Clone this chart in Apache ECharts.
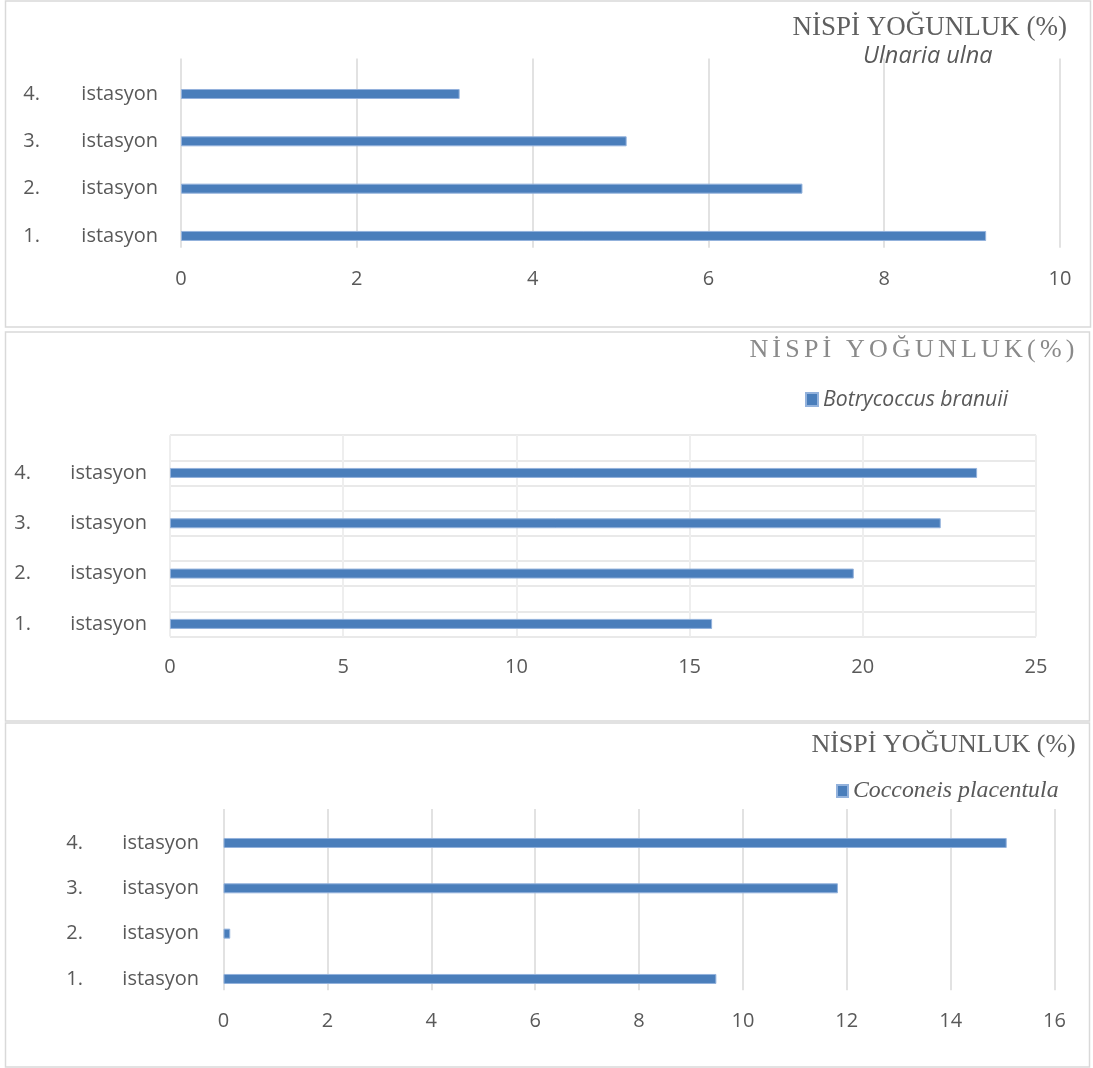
<!DOCTYPE html>
<html>
<head>
<meta charset="utf-8">
<title>Nispi yoğunluk</title>
<script src="https://cdn.jsdelivr.net/npm/echarts@6/dist/echarts.min.js"></script>
<style>
  html, body { margin: 0; padding: 0; background: #ffffff; }
  #chart { width: 1093px; height: 1068px; }
</style>
</head>
<body>
<div id="chart"></div>
<script>
// Station labels (bottom to top) and the word printed after each number
const stations = ['1.', '2.', '3.', '4.'];
const stationWord = 'istasyon';

// Relative abundance (%) per station
const ulnariaUlna = [9.16, 7.07, 5.07, 3.17];
const botryococcusBranuii = [15.65, 19.74, 22.25, 23.3];
const cocconeisPlacentula = [9.49, 0.13, 11.83, 15.08];

// Species names shown in the legends
const speciesNames = ['Ulnaria ulna', 'Botrycoccus branuii', 'Cocconeis placentula'];

// Value-axis ranges and steps for the three panels
const axisMax = [10, 25, 16];
const axisStep = [2, 5, 2];

const heading = 'NİSPİ YOĞUNLUK (%)';
const headingTight = 'NİSPİ YOĞUNLUK(%)';

const GREY = '#595959';
const SANS = '"Open Sans", "Noto Sans", sans-serif';
const SERIF = '"Liberation Serif", "DejaVu Serif", serif';
const BAR = '#4a7ebb';
const BAR_EDGE = '#93b2dc';
const BAR_W = 10;

// Panel geometry
const panels = [
  { left: 181, top: 58.5, width: 879, height: 189.3, labelMargin: 23, numW: 58 },
  { left: 170, top: 435.2, width: 866, height: 201.3, labelMargin: 23, numW: 56 },
  { left: 223.5, top: 809, width: 831, height: 181.3, labelMargin: 24.5, numW: 56 }
];

function bandOffset(p) { return p.height / stations.length / 4; }

function categoryAxis(i) {
  const p = panels[i];
  const lh = bandOffset(p) * 2;
  return {
    type: 'category',
    gridIndex: i,
    data: stations,
    axisLine: { show: false },
    axisTick: { show: false },
    splitLine: { show: false },
    axisLabel: {
      margin: p.labelMargin,
      verticalAlign: 'top',
      formatter: function (v) { return '{n|' + v + '}{t|' + stationWord + '}'; },
      rich: {
        n: { width: p.numW, fontFamily: SANS, fontSize: 20, color: GREY, lineHeight: lh, align: 'left' },
        t: { fontFamily: SANS, fontSize: 20, color: GREY, lineHeight: lh }
      }
    }
  };
}

function valueAxis(i, gridColor, gridWidth) {
  return {
    type: 'value',
    gridIndex: i,
    min: 0,
    max: axisMax[i],
    interval: axisStep[i],
    axisLine: { show: false },
    axisTick: { show: false },
    splitLine: { show: true, lineStyle: { color: gridColor, width: gridWidth } },
    axisLabel: { margin: 21, fontFamily: SANS, fontSize: 20, color: GREY }
  };
}

// Each chart has an empty companion series so the visible bar sits in the lower half of its band
function barPair(i, name, values) {
  const p = panels[i];
  const sep = bandOffset(p) * 2;
  const gap = ((sep - BAR_W) / BAR_W * 100).toFixed(1) + '%';
  const yIdx = i === 2 ? 3 : i;
  return [
    { type: 'bar', xAxisIndex: i, yAxisIndex: yIdx, data: [], barWidth: BAR_W, barGap: gap, silent: true },
    {
      type: 'bar', name: name, xAxisIndex: i, yAxisIndex: yIdx,
      data: values, barWidth: BAR_W, barGap: gap,
      itemStyle: { color: BAR, borderColor: BAR_EDGE, borderWidth: 1 }
    }
  ];
}

const spaced = headingTight.split('').map(function (ch) { return '{c|' + ch + '}'; }).join('');

const chart = echarts.init(document.getElementById('chart'), null, { renderer: 'canvas' });

const frame = { stroke: '#d9d9d9', fill: 'none', lineWidth: 1.5 };

const option = {
  animation: false,
  backgroundColor: '#ffffff',
  graphic: [
    { type: 'rect', shape: { x: 5.5, y: 1, width: 1085, height: 326 }, style: frame, silent: true },
    { type: 'rect', shape: { x: 5.5, y: 332, width: 1084, height: 389 }, style: frame, silent: true },
    { type: 'rect', shape: { x: 5.5, y: 723, width: 1084, height: 344 }, style: frame, silent: true }
  ],
  title: [
    {
      text: heading, right: 26, top: 14.5, padding: 0,
      textStyle: { fontFamily: SERIF, fontSize: 27, fontWeight: 'normal', color: '#5f5f5f', lineHeight: 27 }
    },
    {
      text: spaced, right: 16.5, top: 337, padding: 0,
      textStyle: {
        fontWeight: 'normal',
        rich: { c: { fontFamily: SERIF, fontSize: 26, fontWeight: 'normal', color: '#8a8a8a', lineHeight: 26, padding: [0, 2.1, 0, 2.1] } }
      }
    },
    {
      text: heading, right: 17.3, top: 732, padding: 0,
      textStyle: { fontFamily: SERIF, fontSize: 26, fontWeight: 'normal', color: '#5f5f5f', lineHeight: 26 }
    }
  ],
  legend: [
    {
      data: [speciesNames[0]], left: 858, top: 45, padding: 0, icon: 'none',
      itemWidth: 0, itemHeight: 14, selectedMode: false,
      textStyle: { fontFamily: SANS, fontStyle: 'italic', fontSize: 23.5, color: GREY, lineHeight: 14 }
    },
    {
      data: [speciesNames[1]], left: 805, top: 389, padding: 0, icon: 'rect',
      itemWidth: 12, itemHeight: 13, selectedMode: false,
      textStyle: { fontFamily: SANS, fontStyle: 'italic', fontSize: 21.2, color: GREY, lineHeight: 13 }
    },
    {
      data: [speciesNames[2]], left: 836, top: 779, padding: 0, icon: 'rect',
      itemWidth: 11, itemHeight: 12, selectedMode: false,
      textStyle: { fontFamily: SERIF, fontStyle: 'italic', fontSize: 23.8, color: GREY, lineHeight: 12 }
    }
  ],
  grid: panels.map(function (p) {
    return { left: p.left, top: p.top, width: p.width, height: p.height, containLabel: false, outerBoundsMode: 'none' };
  }),
  xAxis: [
    valueAxis(0, '#d9d9d9', 1.5),
    valueAxis(1, '#eeeeee', 2),
    valueAxis(2, '#d9d9d9', 1.5)
  ],
  yAxis: [
    categoryAxis(0),
    categoryAxis(1),
    {
      // half-band rules behind the middle chart
      type: 'value', gridIndex: 1, min: 0, max: stations.length, interval: 0.5,
      axisLine: { show: false }, axisTick: { show: false }, axisLabel: { show: false },
      splitLine: { show: true, lineStyle: { color: '#e9e9e9', width: 2 } }
    },
    categoryAxis(2)
  ],
  series: [].concat(
    barPair(0, speciesNames[0], ulnariaUlna),
    barPair(1, speciesNames[1], botryococcusBranuii),
    barPair(2, speciesNames[2], cocconeisPlacentula)
  )
};

chart.setOption(option);
</script>
</body>
</html>
